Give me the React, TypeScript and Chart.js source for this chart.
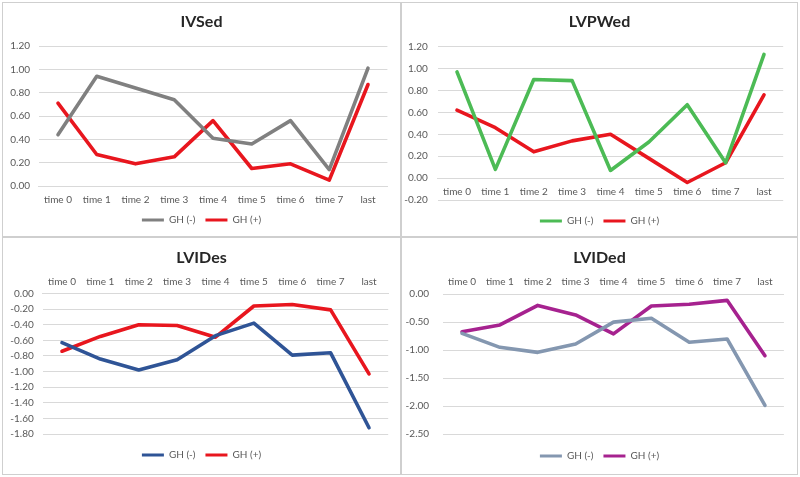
import React, { useEffect, useRef } from 'react';
import { Chart, registerables } from 'chart.js';

Chart.register(...registerables);
Chart.defaults.font.family = 'Lato, "Liberation Sans", sans-serif';

const categories = ['time 0', 'time 1', 'time 2', 'time 3', 'time 4', 'time 5', 'time 6', 'time 7', 'last'];
const seriesLabels = ['GH (-)', 'GH (+)'];

const ivsedNeg = [0.44, 0.94, 0.84, 0.74, 0.41, 0.36, 0.56, 0.14, 1.01];
const ivsedPos = [0.71, 0.27, 0.19, 0.25, 0.56, 0.15, 0.19, 0.05, 0.87];

const lvpwedNeg = [0.97, 0.08, 0.9, 0.89, 0.07, 0.33, 0.67, 0.14, 1.13];
const lvpwedPos = [0.62, 0.46, 0.24, 0.34, 0.4, 0.18, -0.04, 0.14, 0.76];

const lvidesNeg = [-0.63, -0.84, -0.98, -0.85, -0.54, -0.38, -0.79, -0.76, -1.72];
const lvidesPos = [-0.74, -0.55, -0.4, -0.41, -0.56, -0.16, -0.14, -0.21, -1.03];

const lvidedNeg = [-0.7, -0.95, -1.04, -0.89, -0.5, -0.43, -0.86, -0.8, -1.99];
const lvidedPos = [-0.67, -0.55, -0.2, -0.37, -0.71, -0.21, -0.18, -0.11, -1.1];

const RED = '#e8161e';
const GRID = '#d9d9d9';
const TEXT = '#595959';

type Spec = {
  title: string;
  neg: number[];
  pos: number[];
  cNeg: string;
  cPos: string;
  left: number;
  top: number;
  w: number;
  h: number;
  yMin: number;
  yMax: number;
  yStep: number;
  yWidth: number;
  yPad: number;
  padRight: number;
  padBottom: number;
  padAxis: number;
  titleTop: number;
  titleBottom: number;
  xPos: any;
  xHeight: number | null;
  xPad: number;
};

function fmt(v: any): string {
  const n = Number(v);
  return (Math.abs(n) < 1e-9 ? 0 : n).toFixed(2);
}

function buildConfig(s: Spec): any {
  const ds = (label: string, data: number[], color: string) => ({
    label,
    data,
    borderColor: color,
    backgroundColor: color,
    borderWidth: 3.6,
    pointRadius: 0,
    pointHoverRadius: 0,
    tension: 0,
    fill: false,
    borderJoinStyle: 'round',
    borderCapStyle: 'round',
    xAxisID: 'x',
    yAxisID: 'y',
  });
  const scales: any = {
    x: {
      type: 'category',
      position: s.xPos,
      offset: true,
      grid: { display: false, drawTicks: false },
      border: { display: true, color: GRID, width: 1 },
      ticks: { color: TEXT, font: { size: 10 }, padding: s.xPad, maxRotation: 0, autoSkip: false },
      afterFit: (sc: any) => {
        if (s.xHeight != null) sc.height = s.xHeight;
      },
    },
    y: {
      type: 'linear',
      position: 'left',
      min: s.yMin,
      max: s.yMax,
      ticks: {
        stepSize: s.yStep,
        color: TEXT,
        font: { size: 10 },
        padding: s.yPad,
        callback: (v: any) => fmt(v),
      },
      grid: { color: GRID, lineWidth: 1, drawTicks: false },
      border: { display: false },
      afterFit: (sc: any) => {
        sc.width = s.yWidth;
      },
    },
    padR: {
      type: 'linear',
      axis: 'y',
      position: 'right',
      display: true,
      ticks: { display: false },
      grid: { display: false, drawTicks: false },
      border: { display: false },
      afterFit: (sc: any) => {
        sc.width = s.padRight;
      },
    },
  };
  if (s.padAxis > 0) {
    scales.padB = {
      type: 'linear',
      axis: 'x',
      position: 'bottom',
      display: true,
      ticks: { display: false },
      grid: { display: false, drawTicks: false },
      border: { display: false },
      afterFit: (sc: any) => {
        sc.height = s.padAxis;
      },
    };
  }
  return {
    type: 'line',
    data: {
      labels: categories,
      datasets: [ds(seriesLabels[0], s.neg, s.cNeg), ds(seriesLabels[1], s.pos, s.cPos)],
    },
    options: {
      responsive: false,
      animation: false,
      events: [],
      layout: { padding: { left: 0, right: 0, top: 0, bottom: s.padBottom } },
      plugins: {
        title: {
          display: true,
          text: s.title,
          color: '#262626',
          font: { size: 16, weight: 'bold' },
          padding: { top: s.titleTop, bottom: s.titleBottom },
        },
        legend: {
          position: 'bottom',
          labels: {
            boxWidth: 22,
            boxHeight: 3,
            padding: 10,
            color: TEXT,
            font: { size: 10 },
            generateLabels: (chart: any) =>
              chart.data.datasets.map((d: any, i: number) => ({
                text: d.label,
                fillStyle: d.borderColor,
                strokeStyle: d.borderColor,
                lineWidth: 0,
                hidden: false,
                datasetIndex: i,
                fontColor: TEXT,
              })),
          },
        },
        tooltip: { enabled: false },
      },
      scales,
    },
  };
}

const specs: Spec[] = [
  {
    title: 'IVSed', neg: ivsedNeg, pos: ivsedPos, cNeg: '#808080', cPos: RED,
    left: 3, top: 3, w: 397, h: 233,
    yMin: 0, yMax: 1.2, yStep: 0.2, yWidth: 35.6, yPad: 8.6,
    padRight: 12.6, padBottom: 1, padAxis: 0, titleTop: 9, titleBottom: 14.8,
    xPos: 'bottom', xHeight: 19, xPad: 8,
  },
  {
    title: 'LVPWed', neg: lvpwedNeg, pos: lvpwedPos, cNeg: '#4cbb55', cPos: RED,
    left: 402, top: 3, w: 395, h: 233,
    yMin: -0.2, yMax: 1.2, yStep: 0.2, yWidth: 35.8, yPad: 10,
    padRight: 13.8, padBottom: 0, padAxis: 6, titleTop: 9.5, titleBottom: 15,
    xPos: { y: 0 }, xHeight: null, xPad: 8,
  },
  {
    title: 'LVIDes', neg: lvidesNeg, pos: lvidesPos, cNeg: '#2f5496', cPos: RED,
    left: 3, top: 238, w: 397, h: 236,
    yMin: -1.8, yMax: 0, yStep: 0.2, yWidth: 39.8, yPad: 9,
    padRight: 11.8, padBottom: 4, padAxis: 6, titleTop: 10.5, titleBottom: 5.5,
    xPos: 'top', xHeight: 20.3, xPad: 5.3,
  },
  {
    title: 'LVIDed', neg: lvidedNeg, pos: lvidedPos, cNeg: '#8497b0', cPos: '#a6228f',
    left: 402, top: 238, w: 395, h: 236,
    yMin: -2.5, yMax: 0, yStep: 0.5, yWidth: 41.1, yPad: 14,
    padRight: 13.1, padBottom: 3, padAxis: 7, titleTop: 10.5, titleBottom: 5.5,
    xPos: 'top', xHeight: 21, xPad: 6,
  },
];

function Panel({ spec }: { spec: Spec }) {
  const ref = useRef<HTMLCanvasElement>(null);
  useEffect(() => {
    if (!ref.current) return;
    const chart = new Chart(ref.current, buildConfig(spec));
    return () => chart.destroy();
  }, [spec]);
  return (
    <div
      style={{
        position: 'absolute',
        left: spec.left - 1,
        top: spec.top - 1,
        width: spec.w,
        height: spec.h,
        border: '1px solid #cfcfcf',
        background: '#ffffff',
      }}
    >
      <canvas ref={ref} width={spec.w} height={spec.h} style={{ display: 'block', width: spec.w, height: spec.h }} />
    </div>
  );
}

export default function App() {
  return (
    <div style={{ position: 'absolute', left: 0, top: 0, width: 800, height: 477, background: '#ffffff', overflow: 'hidden' }}>
      {specs.map((s) => (
        <Panel key={s.title} spec={s} />
      ))}
    </div>
  );
}
